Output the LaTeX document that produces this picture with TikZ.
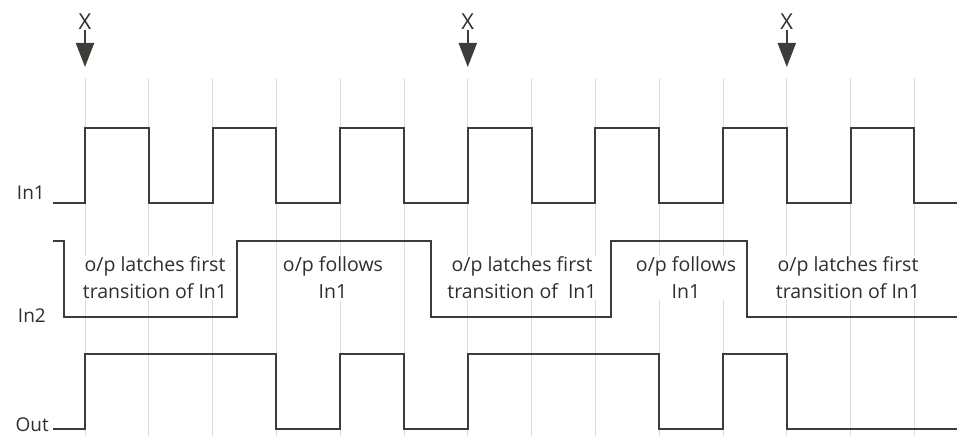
\documentclass[tikz,border=0pt]{standalone}
\usepackage{fontspec}
\setmainfont{Open Sans}
\usetikzlibrary{arrows.meta}
\definecolor{wavec}{HTML}{3C3C38}
\definecolor{gridc}{HTML}{DCDCDC}
\definecolor{textc}{HTML}{2E2E2E}
\begin{document}
\begin{tikzpicture}[x=1pt,y=-1pt,
  wave/.style={draw=wavec, line width=2pt, line join=miter},
  gridline/.style={draw=gridc, line width=1pt},
  lbl/.style={font=\fontsize{19.5}{27}\selectfont, text=textc, fill=white, align=center, inner sep=1pt},
  sig/.style={font=\fontsize{19}{20}\selectfont, text=textc, anchor=east, inner sep=0pt},
  xmarker/.style={font=\fontsize{22}{22}\selectfont, text=textc, inner sep=0pt, anchor=south},
  pointer/.style={draw=wavec, line width=2pt, -{Triangle[width=18pt,length=24pt]}}]
\useasboundingbox (0,0) rectangle (961,436);
% grid
\foreach \i in {0,...,13} \draw[gridline] ({85+63.8*\i},78) -- ({85+63.8*\i},436);
% region labels
\node[lbl] (t1) at (155,278) {o/p latches first\\transition of In1};
\node[lbl] (t2) at (333,278) {o/p follows\\In1};
\node[lbl] (t3) at (522,278) {o/p latches first\\transition of~ In1};
\node[lbl] (t4) at (686,278) {o/p follows\\In1};
\node[lbl] (t5) at (848,278) {o/p latches first\\transition of In1};
% signal names
\node[sig] (in1) at (45,193) {In1};
\node[sig] (in2) at (46,316) {In2};
\node[sig] (out) at (49,425) {Out};
% waveforms
\draw[wave] (53,203) -| (85,128) -| (148.8,203) -| (212.6,128) -| (276.4,203) -| (340.2,128) -| (404,203) -| (467.8,128) -| (531.6,203) -| (595.4,128) -| (659.2,203) -| (723,128) -| (786.8,203) -| (850.6,128) -| (914.4,203) -- (957,203);
\draw[wave] (53,241) -| (64,317) -| (237,241) -| (431,317) -| (611,241) -| (747,317) -- (957,317);
\draw[wave] (53,429) -| (85,354) -| (276.4,429) -| (340.2,354) -| (404,429) -| (467.8,354) -| (659.2,429) -| (723,354) -| (786.8,429) -- (957,429);
% X markers
\node[xmarker] (x1) at (85,30) {X};
\node[xmarker] (x2) at (467.8,30) {X};
\node[xmarker] (x3) at (786.8,30) {X};
\coordinate (a1) at (85,67);
\coordinate (a2) at (467.8,67);
\coordinate (a3) at (786.8,67);
\draw[pointer] (x1.south) -- (a1);
\draw[pointer] (x2.south) -- (a2);
\draw[pointer] (x3.south) -- (a3);
\end{tikzpicture}
\end{document}
